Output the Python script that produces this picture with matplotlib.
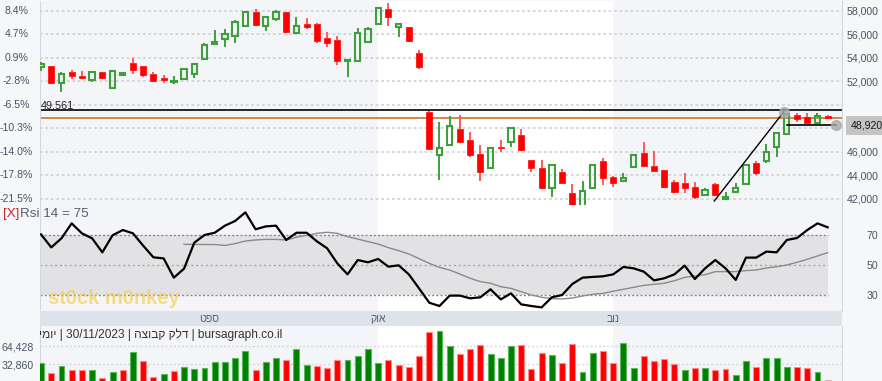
import numpy as np
import matplotlib
matplotlib.use("Agg")
import matplotlib.pyplot as plt
from matplotlib.transforms import blended_transform_factory

plt.rcParams["font.family"] = ["Liberation Sans", "DejaVu Sans"]

# daily bars (index = trading day)
opens = [53200, 53320, 51840, 52780, 52470, 52130, 52780, 51450, 52580, 53600,
         53320, 52670, 52330, 51960, 52210, 52640, 53910, 55190, 55590, 55900,
         56750, 57920, 56720, 57290, 57890, 56160, 56890, 56890, 55670, 55530,
         53740, 53740, 55360, 56890, 58140, 56670, 56670, 54450, 49430, 45740,
         46600, 47930, 47020, 45830, 44610, 46450, 46880, 47450, 45320, 44610,
         42960, 44270, 42480, 41430, 42960, 45260, 43840, 43560, 44750, 45890,
         44810, 44470, 43470, 43330, 42990, 42370, 43280, 42000, 42600, 43280,
         45090, 45230, 46400, 47530, 49150, 48950, 48500, 49080]
highs = [53620, 53350, 52840, 52980, 52920, 52920, 52840, 52900, 52800, 53970,
         53330, 52840, 52520, 52470, 53120, 53600, 55250, 56380, 56440, 57230,
         57950, 58140, 57570, 58090, 57920, 57460, 57380, 57010, 56240, 55870,
         53880, 56530, 56610, 58310, 58650, 57010, 56680, 54680, 49460, 48580,
         49060, 49150, 47670, 46600, 46400, 47020, 48160, 47930, 45330, 45320,
         44950, 44520, 43280, 43530, 44950, 45460, 43960, 44180, 45740, 46880,
         46090, 44480, 43620, 44240, 43470, 42910, 43390, 42620, 43390, 44950,
         45260, 46680, 47730, 49350, 49290, 49290, 49290, 49180]
lows = [52920, 51800, 51130, 52180, 52180, 51960, 52240, 51420, 52550, 52640,
        52350, 51930, 51840, 51790, 52130, 52270, 53900, 55110, 54910, 55300,
        56720, 56720, 56330, 57180, 56150, 56100, 56440, 55300, 54960, 53400,
        52410, 53700, 55300, 56840, 56720, 55820, 55390, 53040, 46200, 43620,
        46540, 46860, 45550, 43560, 44550, 46030, 46450, 46100, 44330, 42850,
        42200, 43330, 41410, 41400, 42910, 43190, 43050, 43470, 44690, 44820,
        44400, 42960, 42480, 42480, 41970, 42310, 42250, 41970, 42540, 43250,
        44040, 45040, 45550, 47500, 48580, 48440, 48440, 48860]
closes = [53500, 51840, 52640, 52470, 52300, 52840, 52330, 52870, 52750, 52980,
          52550, 52040, 52160, 52040, 53060, 53490, 55110, 55330, 56040, 57060,
          57920, 56780, 57460, 57920, 56180, 56720, 56670, 55480, 55250, 53740,
          53860, 56160, 56500, 58230, 57460, 56890, 55480, 53260, 46260, 46370,
          48210, 46880, 45740, 44330, 46310, 46310, 48070, 46170, 44610, 42910,
          44920, 43390, 41430, 42710, 44920, 43820, 43330, 43790, 45720, 44840,
          44410, 43050, 42620, 42960, 42200, 42770, 42310, 42200, 42960, 44920,
          44240, 46030, 47650, 49230, 48810, 48500, 49060, 48920]
volumes = [35600, 17800, 29300, 23000, 23000, 23000, 8000, 19500, 23000, 54000,
           38500, 10900, 15500, 21200, 27600, 24700, 25800, 36700, 36700, 43000,
           55700, 23000, 36700, 43000, 40200, 59700, 31000, 29300, 25800, 40200,
           40200, 48200, 59700, 34400, 40200, 31000, 27600, 46500, 90100, 91800,
           65400, 51700, 60300, 67200, 51700, 43000, 65400, 67200, 24100, 52800,
           49900, 34400, 68900, 18900, 53400, 56800, 34400, 70600, 27000, 48200,
           37900, 42500, 32700, 22400, 25800, 27000, 23000, 25300, 13800, 37900,
           28700, 43000, 44200, 27600, 28700, 27000, 18900, 5200]
volume_up = [1, 0, 1, 0, 0, 1, 0, 1, 0, 1, 0, 0, 1, 0, 1, 1, 1, 1, 1, 1,
             1, 0, 1, 1, 0, 1, 1, 0, 0, 0, 1, 1, 1, 1, 0, 0, 0, 0, 0, 1,
             1, 0, 0, 0, 1, 1, 1, 0, 0, 0, 1, 0, 0, 1, 1, 0, 0, 1, 1, 0,
             0, 0, 0, 1, 0, 1, 0, 0, 1, 1, 0, 1, 1, 1, 0, 0, 1, 0]
rsi = [70.4, 61.8, 67.8, 77.7, 71.1, 67.8, 58.5, 69.8, 73.3, 71.1,
       62.9, 55.2, 54.5, 41.7, 47.7, 64.9, 70.0, 71.5, 76.2, 79.3,
       85.0, 73.8, 75.7, 76.2, 66.7, 71.5, 71.5, 65.8, 61.2, 51.2,
       43.9, 53.4, 51.9, 54.1, 49.0, 49.9, 43.9, 34.6, 25.1, 22.9,
       29.8, 29.8, 28.0, 28.7, 34.0, 27.3, 31.3, 24.0, 22.9, 22.0,
       28.7, 30.2, 37.5, 41.7, 42.2, 42.6, 43.9, 48.8, 47.9, 45.7,
       39.9, 41.3, 43.9, 49.7, 40.8, 47.9, 53.4, 47.9, 40.2, 55.0,
       55.0, 59.0, 58.5, 66.7, 68.0, 73.3, 77.7, 75.1]
rsi_ma = [np.nan] * 14 + [
    63.8, 63.8, 63.7, 63.7, 63.1, 64.3, 66.0, 66.7, 67.1, 67.1,
    66.7, 68.5, 69.8, 71.1, 71.8, 71.1, 68.9, 67.3, 65.6, 64.0,
    61.6, 59.6, 57.4, 54.3, 51.2, 48.5, 46.8, 44.1, 41.3, 39.1,
    38.0, 35.7, 34.6, 32.4, 30.2, 28.7, 27.8, 27.6, 28.2, 29.6,
    30.7, 31.3, 32.7, 34.0, 35.3, 36.6, 37.3, 38.0, 39.7, 41.9,
    42.8, 43.7, 45.7, 45.7, 45.7, 46.4, 46.8, 48.1, 49.0, 50.1,
    51.9, 53.9, 56.1, 58.3]

ref_price = 49561
price_ticks = list(range(42000, 58001, 2000))
rsi_ticks = [30, 50, 70]
volume_ticks = [32860, 64428]
month_names = ["ספט", "אוק", "נוב"]
month_label_pos = [16.5, 33, 56]
month_shade = [(-1, 33), (56, 90)]
trend_up = ([65.9, 72.7], [41830, 49420])
trend_flat = ([73.0, 77.8], [48270, 48270])
header_parts = ["יומי", "30/11/2023", "דלק קבוצה", "bursagraph.co.il"]

W, H = 882, 381
XLIM = (-0.15, 78.4)
LBL = "#4a5263"
GREEN = "#3f9f3f"
RED = "#ff0000"
SHADE = "#f4f5f8"


def visual(s):
    # matplotlib has no bidi, so hebrew runs are reversed by hand
    if any("\u0590" <= ch <= "\u05ff" for ch in s):
        return s[::-1]
    return s


fig = plt.figure(figsize=(W / 100, H / 100), dpi=100, facecolor="#f6f7f9")


def px_axes(x0, y0, x1, y1):
    return fig.add_axes([x0 / W, 1 - y1 / H, (x1 - x0) / W, (y1 - y0) / H])


def base_style(ax):
    ax.set_facecolor("white")
    ax.set_xlim(*XLIM)
    for a, b in month_shade:
        ax.axvspan(a, b, color=SHADE, zorder=0, lw=0)
    for side in ["top", "bottom"]:
        ax.spines[side].set_visible(False)
    for side in ["left", "right"]:
        ax.spines[side].set_color("#d3d8df")
    ax.set_xticks([])


x = np.arange(len(closes))

# ---------------- price panel ----------------
ax = px_axes(39.5, 1, 842, 205)
base_style(ax)
ax.set_ylim(41489, 58851)
for p in price_ticks:
    ax.axhline(p, color="#d4d4d4", lw=1.3, dashes=(1.5, 1.5), zorder=1)
ax.axhline(ref_price, color="black", lw=1.2, zorder=2)
ax.axhline(closes[-1], color="#c8742c", lw=1.2, zorder=2)

for i in x:
    o, h, l, c = opens[i], highs[i], lows[i], closes[i]
    top, bot = max(o, c), min(o, c)
    up = c >= o
    wick_col = GREEN if up else "#ff5a5a"
    ax.vlines(i, top, h, color=wick_col, lw=1.4, zorder=3)
    ax.vlines(i, l, bot, color=wick_col, lw=1.4, zorder=3)
    hgt = max(top - bot, 60)
    if up:
        ax.bar(i, hgt, bottom=bot, width=0.52, facecolor="none",
               edgecolor=GREEN, lw=1.5, zorder=4)
    else:
        ax.bar(i, hgt, bottom=bot, width=0.6, facecolor=RED,
               edgecolor=RED, lw=0.5, zorder=4)

ax.plot(trend_up[0], trend_up[1], color="black", lw=1, zorder=5)
ax.plot(trend_flat[0], trend_flat[1], color="black", lw=1.2, zorder=5)
ax.plot([trend_up[0][1], trend_flat[0][1]], [trend_up[1][1], trend_flat[1][1]],
        "o", ms=7, color="#a9a9a9", alpha=0.8, zorder=6, clip_on=False)

ax.yaxis.tick_right()
ax.set_yticks(price_ticks)
# the last-price box hides the tick label next to it
ax.set_yticklabels(["" if abs(p - closes[-1]) < 1500 else f"{p:,}" for p in price_ticks])
ax.tick_params(axis="y", length=0, pad=26.5, labelsize=7.6, labelcolor=LBL)
for t in ax.get_yticklabels():
    t.set_horizontalalignment("right")

trans = blended_transform_factory(fig.transFigure, ax.transData)
for p in price_ticks:
    pct = (p / closes[0] - 1) * 100
    fig.text(16.5 / W, p, f"{pct:.1f}%", transform=trans, ha="center",
             va="center", fontsize=7.6, color=LBL)

ax.text(0.002, ref_price, f"{ref_price:,}", color="#222222", fontsize=7.8,
        ha="left", va="bottom",
        transform=blended_transform_factory(ax.transAxes, ax.transData))
ax.annotate(f"{closes[-1]:,}", xy=(1, closes[-1]),
            xycoords=blended_transform_factory(ax.transAxes, ax.transData),
            xytext=(6, -5.5), textcoords="offset points", ha="left",
            va="center", fontsize=7.6, color="#1a1a1a", zorder=10,
            annotation_clip=False,
            bbox=dict(boxstyle="square,pad=0.45", fc="#c4c4c4", ec="none"))

# ---------------- RSI panel ----------------
ar = px_axes(39.5, 205, 842, 311)
base_style(ar)
ar.set_ylim(19.6, 89.9)
ar.fill_between([XLIM[0], x[-1]], 30, 70, color="#e2e2e4", lw=0, zorder=1)
ar.hlines([30, 70], XLIM[0], x[-1], color="#8a8a8a", lw=1, linestyles=(0, (1.5, 1.5)), zorder=2)
ar.hlines([50], XLIM[0], x[-1], color="#a8a8a8", lw=1, linestyles=(0, (1.5, 2)), zorder=2)
ar.plot(x, rsi_ma, color="#8a8a8a", lw=1, zorder=3)
ar.plot(x, rsi, color="black", lw=1.6, zorder=4)
ar.yaxis.tick_right()
ar.set_yticks(rsi_ticks)
ar.tick_params(axis="y", length=0, pad=26, labelsize=7.6, labelcolor=LBL)
for t in ar.get_yticklabels():
    t.set_horizontalalignment("right")

fig.text(2.5 / W, 1 - 214 / H, "[X]", color="#c0282d", fontsize=9.6, va="center")
fig.text(20.5 / W, 1 - 214 / H, f"Rsi 14 = {rsi[-1]:.0f}", color="#566070",
         fontsize=9.7, va="center")
fig.text(48 / W, 1 - 298 / H, "st0ck m0nkey", color="#f5c93c", alpha=0.6,
         fontsize=14.5, fontweight="heavy", va="center")

# ---------------- month band ----------------
am = px_axes(39.5, 311, 842, 326)
am.set_facecolor("#dee2e9")
am.set_xlim(*XLIM)
am.set_ylim(0, 1)
am.set_xticks([])
am.set_yticks([])
for s in am.spines.values():
    s.set_visible(False)
for pos, name in zip(month_label_pos, month_names):
    am.text(pos, 0.5, visual(name), ha="center", va="center", fontsize=7.6,
            color="#5a606c")

# ---------------- volume panel ----------------
av = px_axes(39.5, 326, 842, 383)
base_style(av)
av.set_ylim(0, 100000)
for v in volume_ticks:
    av.axhline(v, color="#d8d8d8", lw=1, dashes=(1.5, 1.5), zorder=1)
vcol = ["#008000" if u else "#ff0000" for u in volume_up]
vedge = ["#5cb85c" if u else "#ff8a8a" for u in volume_up]
bars = av.bar(x, volumes, width=0.58, color=vcol, edgecolor=vedge, lw=0.8, zorder=3)
bars[-1].set_alpha(0.45)
av.set_yticks(volume_ticks)
av.set_yticklabels([f"{v:,}" for v in volume_ticks])
av.tick_params(axis="y", length=0, pad=4.3, labelsize=7.6, labelcolor=LBL)

header = " | ".join(visual(p) for p in header_parts)
av.text((282 - 39.5) / 802.5, (383 - 334.5) / 57, header, transform=av.transAxes,
        ha="right", va="center", fontsize=8.6, color="#333333", clip_on=True,
        zorder=5)

fig.savefig("out.png", dpi=100, facecolor=fig.get_facecolor())
